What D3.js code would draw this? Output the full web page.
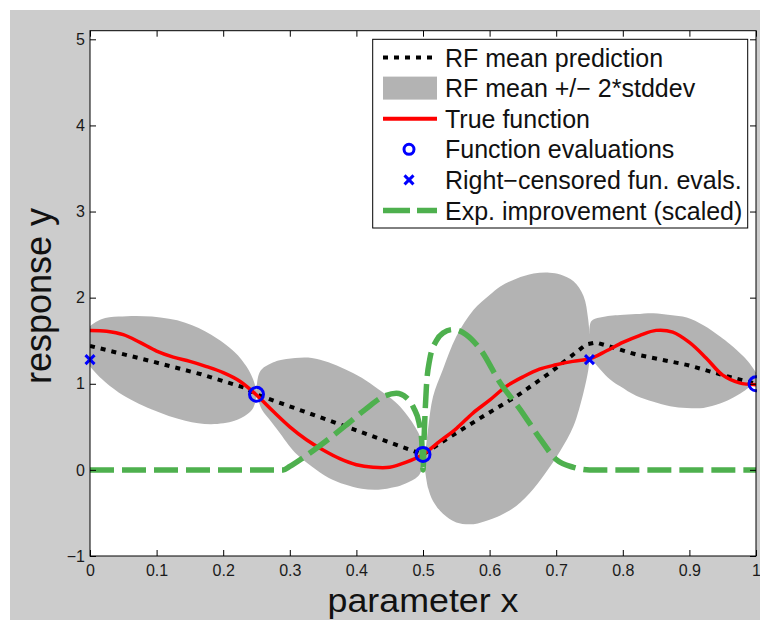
<!DOCTYPE html>
<html>
<head>
<meta charset="utf-8">
<script src="https://cdn.jsdelivr.net/npm/d3@7"></script>
<style>
  body { margin: 0; background: #fff; }
  text { font-family: "Liberation Sans", Arial, sans-serif; }
</style>
</head>
<body>
<svg id="chart" width="760" height="620"></svg>
<script>
// tick values / labels
const xTicks = [0, 0.1, 0.2, 0.3, 0.4, 0.5, 0.6, 0.7, 0.8, 0.9, 1];
const xTickLabels = ["0", "0.1", "0.2", "0.3", "0.4", "0.5", "0.6", "0.7", "0.8", "0.9", "1"];
const yTicks = [-1, 0, 1, 2, 3, 4, 5];
const yTickLabels = ["\u22121", "0", "1", "2", "3", "4", "5"];

// RF mean +/- 2*stddev band (null = gap between pieces)
const bandX = [0, 0.017, 0.043, 0.093, 0.143, 0.182, 0.217, 0.235, 0.245, 0.25, null,
  0.25, 0.253, 0.258, 0.273, 0.283, 0.308, 0.333, 0.358, 0.383, 0.408, 0.433, 0.458, 0.473, 0.493, 0.503, null,
  0.503, 0.508, 0.515, 0.53, 0.55, 0.576, 0.6, 0.616, 0.64, 0.666, 0.69, 0.706, 0.726, 0.741, 0.748, 0.751, null,
  0.75, 0.753, 0.781, 0.796, 0.82, 0.846, 0.871, 0.896, 0.921, 0.946, 0.961, 0.981, 0.99, 1.0];
const bandHi = [1.67, 1.75, 1.78, 1.78, 1.71, 1.57, 1.37, 1.20, 1.05, 0.92, null,
  0.95, 1.10, 1.17, 1.24, 1.27, 1.30, 1.30, 1.25, 1.17, 1.07, 0.935, 0.79, 0.665, 0.43, 0.20, null,
  0.15, 0.50, 0.85, 1.17, 1.55, 1.86, 2.03, 2.13, 2.22, 2.28, 2.29, 2.27, 2.19, 2.02, 1.75, 1.45, null,
  1.60, 1.73, 1.79, 1.80, 1.81, 1.82, 1.80, 1.77, 1.68, 1.55, 1.46, 1.32, 1.24, 1.13];
const bandLo = [1.20, 1.06, 0.90, 0.70, 0.57, 0.53, 0.57, 0.64, 0.72, 0.85, null,
  0.85, 0.80, 0.70, 0.55, 0.45, 0.20, 0.04, -0.09, -0.17, -0.22, -0.23, -0.20, -0.16, -0.07, 0.09, null,
  0.0, -0.22, -0.36, -0.51, -0.61, -0.63, -0.58, -0.53, -0.42, -0.22, 0.03, 0.22, 0.51, 0.90, 1.15, 1.35, null,
  1.40, 1.30, 1.05, 0.97, 0.86, 0.79, 0.74, 0.72, 0.72, 0.77, 0.82, 0.91, 0.96, 1.01];

// RF mean prediction
const meanX = [0, 0.093, 0.167, 0.232, 0.25, 0.5, 0.531, 0.591, 0.641, 0.691, 0.745, 0.76, 0.82, 0.896, 0.946, 1];
const meanY = [1.44, 1.26, 1.11, 0.955, 0.877, 0.18, 0.336, 0.626, 0.857, 1.13, 1.457, 1.48, 1.34, 1.22, 1.11, 1.0];

// true function
const trueX = [0, 0.025, 0.05, 0.075, 0.1, 0.125, 0.15, 0.175, 0.2, 0.225, 0.25, 0.275, 0.3, 0.325, 0.35, 0.375,
  0.4, 0.425, 0.45, 0.475, 0.5, 0.525, 0.55, 0.575, 0.6, 0.625, 0.65, 0.675, 0.7, 0.725, 0.75, 0.775, 0.8,
  0.825, 0.85, 0.875, 0.9, 0.925, 0.95, 0.975, 1];
const trueY = [1.62, 1.61, 1.57, 1.48, 1.38, 1.31, 1.26, 1.20, 1.13, 1.03, 0.87, 0.68, 0.50, 0.35, 0.23, 0.13,
  0.06, 0.03, 0.03, 0.09, 0.18, 0.33, 0.48, 0.66, 0.81, 0.97, 1.08, 1.17, 1.22, 1.26, 1.29, 1.38, 1.48,
  1.56, 1.62, 1.60, 1.48, 1.30, 1.10, 1.01, 0.99];

// expected improvement (scaled)
const eiX = [0, 0.29, 0.3, 0.32, 0.345, 0.383, 0.413, 0.443, 0.46, 0.475, 0.486, 0.494, 0.498, 0.5, 0.502,
  0.505, 0.51, 0.52, 0.53, 0.545, 0.565, 0.586, 0.616, 0.646, 0.676, 0.7, 0.726, 0.75, 1];
const eiY = [0, 0, 0.04, 0.14, 0.28, 0.51, 0.70, 0.86, 0.89, 0.84, 0.72, 0.55, 0.35, 0.0, 0.45,
  0.95, 1.28, 1.50, 1.59, 1.63, 1.57, 1.40, 1.01, 0.70, 0.36, 0.12, 0.03, 0, 0];

// evaluations
const evalX = [0.25, 0.5, 1];
const evalY = [0.877, 0.18, 1.0];
const censX = [0, 0.75];
const censY = [1.28, 1.28];

const legendLabels = ["RF mean prediction", "RF mean +/\u2212 2*stddev", "True function",
  "Function evaluations", "Right\u2212censored fun. evals.", "Exp. improvement (scaled)"];

const svg = d3.select("#chart");
const pLeft = 90, pRight = 756, pTop = 30.7, pBottom = 556;

svg.append("rect").attr("x", 10).attr("y", 10).attr("width", 750).attr("height", 610).attr("fill", "#cccccc");
svg.append("rect").attr("x", pLeft).attr("y", pTop).attr("width", pRight - pLeft).attr("height", pBottom - pTop)
  .attr("fill", "#fff");

const x = d3.scaleLinear().domain([0, 1]).range([pLeft, pRight]);
const y = d3.scaleLinear().domain([-1, 5.1]).range([pBottom, pTop]);

svg.append("clipPath").attr("id", "plot")
  .append("rect").attr("x", pLeft).attr("y", pTop).attr("width", pRight - pLeft).attr("height", pBottom - pTop);
svg.append("clipPath").attr("id", "marks")
  .append("rect").attr("x", 0).attr("y", 0).attr("width", pRight + 1).attr("height", 620);

const g = svg.append("g").attr("clip-path", "url(#plot)");

const band = bandX.map((d, i) => ({ x: d, hi: bandHi[i], lo: bandLo[i] }));
const area = d3.area()
  .defined(d => d.x !== null)
  .x(d => x(d.x)).y0(d => y(d.lo)).y1(d => y(d.hi))
  .curve(d3.curveCatmullRom);
g.append("path").attr("d", area(band)).attr("fill", "#b3b3b3");

const meanLine = d3.line().x(d => x(d[0])).y(d => y(d[1]));
g.append("path").attr("d", meanLine(d3.zip(meanX, meanY)))
  .attr("fill", "none").attr("stroke", "#000").attr("stroke-width", 4).attr("stroke-dasharray", "5,6");

const trueLine = d3.line().x(d => x(d[0])).y(d => y(d[1])).curve(d3.curveCatmullRom);
g.append("path").attr("d", trueLine(d3.zip(trueX, trueY)))
  .attr("fill", "none").attr("stroke", "#ff0000").attr("stroke-width", 3.5);

const mk = svg.append("g").attr("clip-path", "url(#marks)");
mk.selectAll("circle.ev").data(d3.zip(evalX, evalY)).join("circle")
  .attr("cx", d => x(d[0])).attr("cy", d => y(d[1])).attr("r", 7)
  .attr("fill", "none").attr("stroke", "#0000ff").attr("stroke-width", 3);
mk.selectAll("path.cens").data(d3.zip(censX, censY)).join("path")
  .attr("d", d => {
    const cx = x(d[0]), cy = y(d[1]), s = 4.5;
    return `M${cx - s},${cy - s}L${cx + s},${cy + s}M${cx - s},${cy + s}L${cx + s},${cy - s}`;
  })
  .attr("stroke", "#0000ff").attr("stroke-width", 3);

const eiLine = d3.line().x(d => x(d[0])).y(d => y(d[1])).curve(d3.curveMonotoneX);
g.append("path").attr("d", eiLine(d3.zip(eiX, eiY)))
  .attr("fill", "none").attr("stroke", "#4eb04e").attr("stroke-width", 5.5).attr("stroke-dasharray", "24,8");

// axes, ticks pointing inward
const fmtX = (d, i) => xTickLabels[i];
const fmtY = (d, i) => yTickLabels[i];
const axB = svg.append("g").attr("transform", `translate(0,${pBottom})`)
  .call(d3.axisBottom(x).tickValues(xTicks).tickFormat(fmtX).tickSizeInner(-6).tickSizeOuter(0).tickPadding(9));
const axL = svg.append("g").attr("transform", `translate(${pLeft},0)`)
  .call(d3.axisLeft(y).tickValues(yTicks).tickFormat(fmtY).tickSizeInner(-6).tickSizeOuter(0).tickPadding(5));
const axT = svg.append("g").attr("transform", `translate(0,${pTop})`)
  .call(d3.axisTop(x).tickValues(xTicks).tickFormat("").tickSizeInner(-6).tickSizeOuter(0));
const axR = svg.append("g").attr("transform", `translate(${pRight},0)`)
  .call(d3.axisRight(y).tickValues(yTicks).tickFormat("").tickSizeInner(-6).tickSizeOuter(0));
[axB, axL, axT, axR].forEach(a => {
  a.select(".domain").remove();
  a.selectAll("line").attr("stroke", "#000");
  a.selectAll("text").attr("font-size", 16).attr("fill", "#1a1a1a")
    .attr("font-family", "'Liberation Sans', Arial, sans-serif");
});
svg.append("rect").attr("x", pLeft).attr("y", pTop).attr("width", pRight - pLeft).attr("height", pBottom - pTop)
  .attr("fill", "none").attr("stroke", "#000").attr("stroke-width", 1);

svg.append("text").attr("x", (pLeft + pRight) / 2).attr("y", 612)
  .attr("text-anchor", "middle").attr("font-size", 34)
  .attr("textLength", 191).attr("lengthAdjust", "spacingAndGlyphs")
  .attr("fill", "#111").text("parameter x");
svg.append("text").attr("transform", "translate(51,296) rotate(-90)")
  .attr("text-anchor", "middle").attr("font-size", 36).attr("fill", "#111").text("response y");

// legend
const lg = svg.append("g");
lg.append("rect").attr("x", 372.7).attr("y", 39.3).attr("width", 375).attr("height", 188.7)
  .attr("fill", "#fff").attr("stroke", "#000").attr("stroke-width", 1);
const rowY = i => 57.5 + 30.6 * i;
const sx0 = 383, sx1 = 437, sxm = 409;
lg.append("line").attr("x1", sx0).attr("x2", sx1).attr("y1", rowY(0)).attr("y2", rowY(0))
  .attr("stroke", "#000").attr("stroke-width", 4).attr("stroke-dasharray", "5,6");
lg.append("rect").attr("x", sx0).attr("y", rowY(1) - 11.5).attr("width", sx1 - sx0).attr("height", 23)
  .attr("fill", "#b3b3b3");
lg.append("line").attr("x1", sx0).attr("x2", sx1).attr("y1", rowY(2)).attr("y2", rowY(2))
  .attr("stroke", "#ff0000").attr("stroke-width", 4);
lg.append("circle").attr("cx", sxm).attr("cy", rowY(3)).attr("r", 5)
  .attr("fill", "none").attr("stroke", "#0000ff").attr("stroke-width", 3);
lg.append("path")
  .attr("d", `M${sxm - 4.5},${rowY(4) - 4.5}L${sxm + 4.5},${rowY(4) + 4.5}M${sxm - 4.5},${rowY(4) + 4.5}L${sxm + 4.5},${rowY(4) - 4.5}`)
  .attr("stroke", "#0000ff").attr("stroke-width", 3);
lg.append("line").attr("x1", sx0).attr("x2", sx1).attr("y1", rowY(5)).attr("y2", rowY(5))
  .attr("stroke", "#4eb04e").attr("stroke-width", 5.5).attr("stroke-dasharray", "27,7");
lg.selectAll("text.lab").data(legendLabels).join("text")
  .attr("x", 445).attr("y", (d, i) => rowY(i) + 9)
  .attr("font-size", 25).attr("fill", "#111").text(d => d);
</script>
</body>
</html>
